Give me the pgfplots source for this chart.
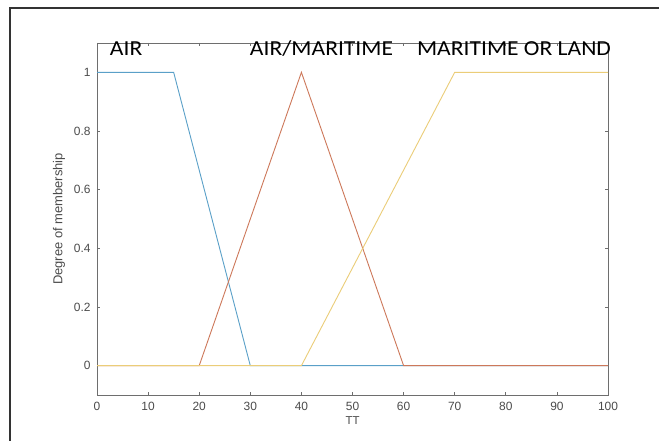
\documentclass[border=0pt]{standalone}
\usepackage{pgfplots}
\pgfplotsset{compat=1.18}
\usepackage{fontspec}
\setmainfont{Liberation Sans}
\newfontfamily\calib[FakeStretch=1.1]{Carlito}
\definecolor{mblue}{RGB}{90,160,200}
\definecolor{mred}{RGB}{205,120,90}
\definecolor{myel}{RGB}{235,205,120}
\definecolor{axgray}{RGB}{110,110,110}
\begin{document}
\begin{tikzpicture}[x=1bp,y=1bp]
\useasboundingbox (0,0) rectangle (659,441);
\fill[white] (0,0) rectangle (659,441);
\draw[line width=1.6bp,black!80] (10,0) -- (10,433) -- (659,433);
\begin{axis}[
  at={(97bp,46bp)}, anchor=south west,
  scale only axis, width=511bp, height=352bp,
  xmin=0, xmax=100, ymin=-0.1, ymax=1.1,
  xtick={0,10,...,100},
  ytick={0,0.2,0.4,0.6,0.8,1},
  yticklabels={0,0.2,0.4,0.6,0.8,1},
  tick align=inside,
  major tick length=3bp,
  axis line style={axgray, line width=0.9bp},
  every tick/.style={axgray, line width=0.7bp},
  tick label style={font=\fontsize{12}{14}\selectfont, text=black!70},
  xticklabel style={yshift=-4bp},
  yticklabel style={xshift=-3bp},
  /pgf/number format/assume math mode=true,
  xlabel={TT}, ylabel={Degree of membership},
  xlabel style={font=\fontsize{11.5}{13}\selectfont, text=black!70, yshift=1bp},
  ylabel style={font=\fontsize{13}{15}\selectfont, text=black!70, yshift=2bp},
  clip=false,
]
\addplot[mblue, line width=0.9bp] coordinates {(0,1) (15,1) (30,0) (100,0)};
\addplot[mred, line width=0.9bp] coordinates {(0,0) (20,0) (40,1) (60,0) (100,0)};
\addplot[myel, line width=0.9bp] coordinates {(0,0) (40,0) (70,1) (100,1)};
\node[anchor=base west, font=\calib\fontsize{21.5}{24}\selectfont, inner sep=0] at (axis cs:2.5,1.059) {AIR};
\node[anchor=base west, font=\calib\fontsize{21.5}{24}\selectfont, inner sep=0] at (axis cs:29.9,1.059) {AIR/MARITIME};
\node[anchor=base west, font=\calib\fontsize{21.5}{24}\selectfont, inner sep=0] at (axis cs:62.6,1.059) {MARITIME OR LAND};
\end{axis}
\end{tikzpicture}
\end{document}
